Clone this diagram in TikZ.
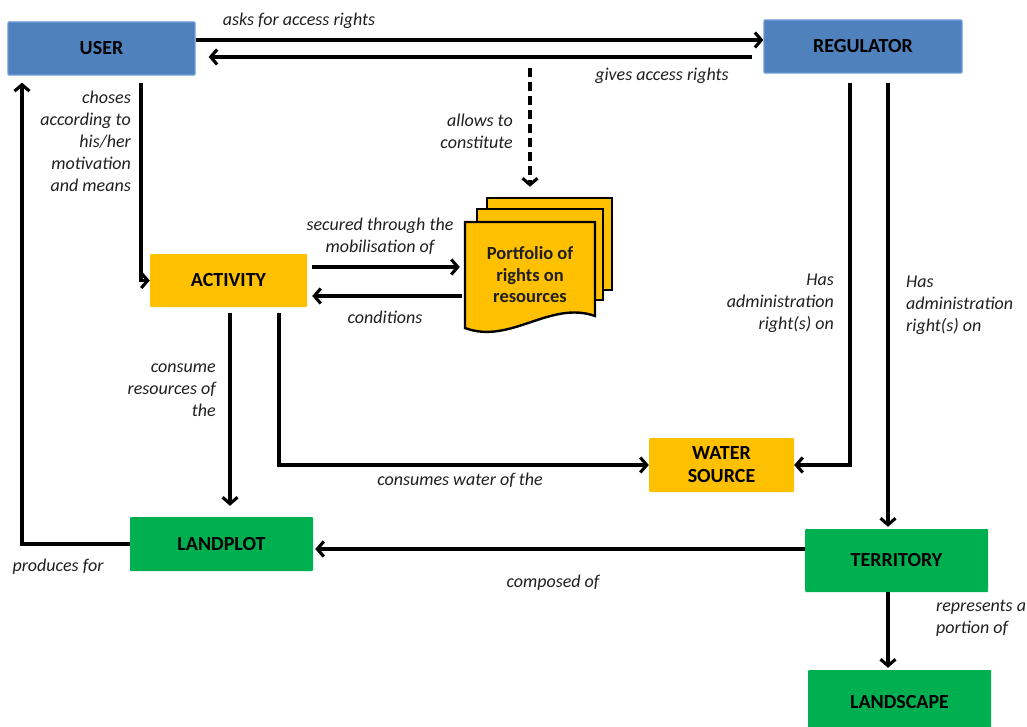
\documentclass[tikz,border=0pt]{standalone}
\usepackage{fontspec}
\setmainfont{Carlito}
\usetikzlibrary{arrows.meta,calc}
\definecolor{ublue}{HTML}{4F81BD}
\definecolor{ubluebd}{HTML}{6C9BD6}
\definecolor{uyellow}{HTML}{FFC000}
\definecolor{ugreen}{HTML}{00B050}
\definecolor{txt}{HTML}{1F1F1F}
\begin{document}
\begin{tikzpicture}[x=1pt,y=-1pt,
 box/.style={inner sep=0pt, rounded corners=1pt, font=\fontsize{20}{24}\selectfont\bfseries, text=black, align=center},
 bluebox/.style={box, fill=ublue, draw=ubluebd, line width=1.2pt},
 yellowbox/.style={box, fill=uyellow},
 greenbox/.style={box, fill=ugreen},
 pagebox/.style={draw=black, fill=uyellow, line width=2.4pt, inner sep=0pt},
 lbl/.style={font=\fontsize{18}{22}\selectfont\itshape, text=txt, inner sep=0pt},
 arr/.style={line width=3.1pt, -{Straight Barb[length=6.5pt,width=15pt,line width=3.1pt]}},
]
\useasboundingbox (0,0) rectangle (1027,727);

% boxes
\node[bluebox, minimum width=187pt, minimum height=53pt] (user) at (101.5,48.5) {USER};
\node[bluebox, minimum width=198pt, minimum height=53pt] (reg) at (863,46.5) {REGULATOR};
\node[yellowbox, minimum width=157pt, minimum height=53pt] (act) at (228.5,280.5) {ACTIVITY};
\node[yellowbox, minimum width=145pt, minimum height=54pt] (water) at (721.5,465) {WATER\\[-1pt]SOURCE};
\node[greenbox, minimum width=183pt, minimum height=54pt] (land) at (221.5,544) {LANDPLOT};
\node[greenbox, minimum width=183pt, minimum height=63pt] (terr) at (896.5,560.5) {TERRITORY};
\node[greenbox, minimum width=183pt, minimum height=64pt] (lands) at (899.5,702) {LANDSCAPE};

% portfolio (multi-document)
\node[pagebox, minimum width=125pt, minimum height=92pt] (page3) at (549.5,244) {};
\node[pagebox, minimum width=126pt, minimum height=91pt] (page2) at (540,254.5) {};
\draw[fill=uyellow, line width=2.4pt] (465,222) -- (595,222) -- (595,316)
  .. controls (550,300) and (510,345) .. (465,328) -- cycle;
\node[inner sep=0pt, minimum width=130pt, minimum height=108pt, align=center,
  font=\fontsize{18.5}{21.5}\selectfont\bfseries, text=txt] (port) at (530,275)
  {Portfolio of\\rights on\\resources};

% connectors
\draw[arr] (user.east |- 0,40) -- (reg.west |- 0,40);
\draw[arr, shorten <=11pt, shorten >=13pt] (reg.west |- 0,57) -- (user.east |- 0,57);
\coordinate (dtop) at (530,68);
\draw[arr, dash pattern=on 9pt off 5pt, shorten >=10pt] (dtop) -- (dtop |- page3.north);
\draw[arr, shorten <=7pt] (user.south -| 141,0) |- (act.west);
\draw[arr, shorten >=7pt] (land.west) -| (user.south -| 22,0);
\draw[arr, shorten <=5pt, shorten >=5pt] (act.east |- 0,267) -- (port.west |- 0,267);
\draw[arr, shorten <=3pt, shorten >=5pt] (port.west |- 0,296) -- (act.east |- 0,296);
\draw[arr, shorten <=6pt, shorten >=11pt] (act.south -| 230,0) -- (land.north -| 230,0);
\draw[arr, shorten <=6pt] (act.south -| 279,0) |- (water.west);
\draw[arr, shorten <=9pt] (reg.south -| 850,0) |- (water.east);
\draw[arr, shorten <=9pt, shorten >=2pt] (reg.south -| 888,0) -- (terr.north -| 888,0);
\draw[arr, shorten >=2pt] (terr.west |- 0,549) -- (land.east |- 0,549);
\draw[arr, shorten >=2pt] (terr.south -| 888,0) -- (lands.north -| 888,0);

% labels
\node[lbl] (l1) at (299,21) {asks for access rights};
\node[lbl] (l2) at (662,76) {gives access rights};
\node[lbl, align=right, anchor=east] (l3) at (513,131.5) {allows to\\constitute};
\node[lbl, align=right, anchor=east] (l4) at (131,141.5) {choses\\according to\\his/her\\motivation\\and means};
\node[lbl, align=center] (l5) at (380,236) {secured through the\\mobilisation of};
\node[lbl] (l6) at (385,317) {conditions};
\node[lbl, align=right, anchor=east] (l7) at (216,390.5) {consume\\resources of\\the};
\node[lbl] (l8) at (460,480) {consumes water of the};
\node[lbl, align=right, anchor=east] (l9) at (834,303.5) {Has\\administration\\right(s) on};
\node[lbl, align=left, anchor=west] (l10) at (906,305.5) {Has\\administration\\right(s) on};
\node[lbl] (l11) at (58,567) {produces for};
\node[lbl] (l12) at (553,583) {composed of};
\node[lbl, align=left, anchor=west] (l13) at (936,618) {represents a\\portion of};
\end{tikzpicture}
\end{document}
